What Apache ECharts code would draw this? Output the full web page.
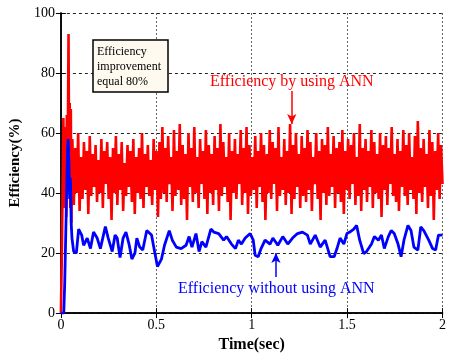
<!DOCTYPE html>
<html>
<head>
<meta charset="utf-8">
<script src="https://cdn.jsdelivr.net/npm/echarts@6/dist/echarts.min.js"></script>
<style>
  html, body { margin: 0; padding: 0; background: #fff; }
  #main { width: 449px; height: 358px; }
</style>
</head>
<body>
<div id="main"></div>
<script>
// axis ticks
var xTicks = [0, 0.5, 1, 1.5, 2];
var yTicks = [0, 20, 40, 60, 80, 100];

// red: efficiency by using ANN (start transient, then steady part sampled evenly from 0.06 s to 2 s)
var redStartT = [0, 0.005, 0.01, 0.013, 0.016, 0.019, 0.022, 0.025, 0.028, 0.031, 0.035, 0.04, 0.043, 0.046, 0.049, 0.052, 0.055];
var redStartV = [0, 20, 45, 65, 40, 62, 35, 58, 32, 66, 45, 93, 50, 70, 35, 68, 30];
var redSteadyStart = 0.06;
var redSteadyV = [
  58,36,55,40,60,34,52,38,57,41,54,33,59,39,53,42,
  56,37,51,40,58,35,54,43,57,38,52,31,55,40,59,36,
  53,41,57,34,50,39,56,42,54,37,58,33,52,40,55,38,
  60,35,53,42,56,39,51,36,58,41,54,32,57,38,62,40,
  55,37,59,43,52,34,61,39,54,41,63,36,56,38,53,31,
  60,42,55,37,62,40,52,35,58,43,54,38,61,33,56,40,
  53,36,59,41,55,34,63,39,57,42,52,37,60,31,54,40,
  58,38,53,43,61,36,55,40,62,33,56,39,52,41,59,35,
  54,42,60,37,56,31,53,40,61,38,57,43,55,34,62,39,
  52,41,58,36,54,40,63,33,56,38,60,42,53,35,59,39,
  55,37,61,41,57,34,52,43,60,38,54,31,58,40,56,36,
  62,39,53,42,59,35,55,40,57,37,61,33,54,41,58,38,
  56,43,60,36,52,39,63,34,55,41,58,37,54,42,61,35,
  57,40,53,38,60,32,56,41,59,36,55,43,62,39,53,37,
  58,34,54,42,61,39,56,36,60,41,52,38,59,33,64,40,
  55,37,58,42,53,35,61,39,57,31,54,41,60,38,56,43
];

// blue: efficiency without using ANN
var blueT = [0, 0.015, 0.02, 0.025, 0.03, 0.035, 0.038, 0.042, 0.046, 0.05, 0.054, 0.058,
  0.067, 0.081, 0.093, 0.109, 0.119, 0.138, 0.155, 0.171, 0.190, 0.207, 0.233, 0.248, 0.269, 0.284,
  0.295, 0.310, 0.326, 0.341, 0.357, 0.372, 0.388, 0.398, 0.413, 0.429, 0.450, 0.475, 0.491, 0.506,
  0.527, 0.543, 0.568, 0.584, 0.605, 0.630, 0.656, 0.672, 0.687, 0.708, 0.724, 0.739, 0.760, 0.786,
  0.801, 0.827, 0.853, 0.868, 0.894, 0.915, 0.930, 0.946, 0.966, 0.992, 1.008, 1.018, 1.034, 1.049,
  1.070, 1.096, 1.111, 1.137, 1.163, 1.189, 1.214, 1.240, 1.266, 1.292, 1.307, 1.333, 1.359, 1.385,
  1.411, 1.432, 1.447, 1.463, 1.483, 1.499, 1.514, 1.535, 1.550, 1.566, 1.587, 1.602, 1.628, 1.643,
  1.664, 1.680, 1.695, 1.716, 1.731, 1.747, 1.767, 1.783, 1.798, 1.819, 1.835, 1.850, 1.871, 1.886,
  1.902, 1.928, 1.948, 1.964, 1.979, 2.000];
var blueV = [0, 0, 10, 25, 40, 55, 58, 50, 38, 45, 30, 25,
  20.5, 20, 28, 26, 22.6, 25, 21.5, 27, 25, 21.5, 28.8, 25, 20.5, 26,
  25, 18.5, 25, 27, 23, 18, 20, 25, 22, 21, 27.5, 26, 20.5, 15.5,
  18, 22.6, 27.5, 24.3, 22, 21.5, 22.6, 25.5, 22, 26.5, 20.5, 23.8, 22, 28,
  27, 26.5, 24.3, 25.5, 23, 21.5, 24.3, 23, 25, 26.5, 24.3, 19.3, 18.8, 21.5,
  24.3, 23, 25, 22.6, 25.5, 23, 25, 26.5, 27, 26, 23, 26, 22, 24.3,
  18.8, 18.8, 21.5, 25, 23, 26.5, 27, 28, 29.2, 24.3, 19.8, 20.5, 23, 25.5,
  24.3, 26, 21.5, 25.5, 27.5, 26.5, 23, 18.8, 24.3, 29.2, 27.5, 22, 21, 28.7,
  27.5, 24.3, 21.5, 21, 26, 26];

// 데이터 조립
var redData = [];
for (var i = 0; i < redStartT.length; i++) redData.push([redStartT[i], redStartV[i]]);
var dt = (2 - redSteadyStart) / (redSteadyV.length - 1);
for (var j = 0; j < redSteadyV.length; j++) redData.push([redSteadyStart + j * dt, redSteadyV[j]]);
var blueData = blueT.map(function (t, k) { return [t, blueV[k]]; });

var serif = 'Liberation Serif';
var myChart = echarts.init(document.getElementById('main'));

var axisLineStyle = { color: '#000', width: 1.5 };
var option = {
  animation: false,
  textStyle: { fontFamily: serif },
  grid: { left: 60, right: 2, top: 13, bottom: 43 },
  xAxis: [
    {
      type: 'value', min: xTicks[0], max: xTicks[xTicks.length - 1], interval: 0.5,
      name: 'Time(sec)', nameLocation: 'middle', nameGap: 22,
      nameTextStyle: { fontFamily: serif, fontSize: 16, fontWeight: 'bold', color: '#000' },
      axisLine: { lineStyle: axisLineStyle },
      axisTick: { inside: true, length: 5, lineStyle: { color: '#000' } },
      axisLabel: { fontFamily: serif, fontSize: 14, color: '#000', margin: 5 },
      splitLine: { show: true, lineStyle: { color: '#666', type: [2, 2], width: 1 } }
    },
    {
      type: 'value', position: 'top', min: 0, max: 2, interval: 0.5,
      axisLine: { lineStyle: axisLineStyle },
      axisTick: { inside: true, length: 5, lineStyle: { color: '#000' } },
      axisLabel: { show: false }, splitLine: { show: false }
    }
  ],
  yAxis: [
    {
      type: 'value', min: yTicks[0], max: yTicks[yTicks.length - 1], interval: 20,
      name: 'Efficiency(%)', nameLocation: 'middle', nameGap: 36,
      nameTextStyle: { fontFamily: serif, fontSize: 15, fontWeight: 'bold', color: '#000' },
      axisLine: { show: true, lineStyle: axisLineStyle },
      axisTick: { show: true, inside: true, length: 5, lineStyle: { color: '#000' } },
      axisLabel: { fontFamily: serif, fontSize: 14, color: '#000', margin: 6 },
      splitLine: { show: true, lineStyle: { color: '#222', type: [3, 3], width: 1 } }
    },
    {
      type: 'value', position: 'right', min: 0, max: 100, interval: 20,
      axisLine: { show: true, lineStyle: axisLineStyle },
      axisTick: { show: true, inside: true, length: 5, lineStyle: { color: '#000' } },
      axisLabel: { show: false }, splitLine: { show: false }
    }
  ],
  series: [
    {
      name: 'Efficiency by using ANN',
      type: 'line',
      data: redData,
      showSymbol: false,
      sampling: null,
      lineStyle: { color: '#ff0000', width: 2.6, join: 'miter' },
      itemStyle: { color: '#ff0000' },
      markLine: {
        silent: true,
        symbol: ['none', 'arrow'],
        symbolSize: [7, 10],
        label: { show: false },
        lineStyle: { color: '#ff0000', type: 'solid', width: 1.5 },
        data: [[{ coord: [1.21, 74] }, { coord: [1.21, 63] }]]
      }
    },
    {
      name: 'Efficiency without using ANN',
      type: 'line',
      data: blueData,
      showSymbol: false,
      lineStyle: { color: '#0000ff', width: 2.8 },
      itemStyle: { color: '#0000ff' },
      markLine: {
        silent: true,
        symbol: ['none', 'arrow'],
        symbolSize: [7, 10],
        label: { show: false },
        lineStyle: { color: '#0000ff', type: 'solid', width: 1.5 },
        data: [[{ coord: [1.127, 12] }, { coord: [1.127, 20] }]]
      }
    }
  ],
  graphic: [
    {
      type: 'rect', z: 100,
      shape: { x: 93, y: 40, width: 75, height: 52 },
      style: { fill: '#fffaf0', stroke: '#000', lineWidth: 1.5 }
    },
    {
      type: 'text', z: 101, left: 97, top: 44,
      style: { text: 'Efficiency\nimprovement\nequal 80%', font: '12px "Liberation Serif"', fill: '#000', lineHeight: 15 }
    },
    {
      type: 'text', z: 101, left: 210, top: 74,
      style: { text: 'Efficiency by using ANN', font: '16px "Liberation Serif"', fill: '#ff0000' }
    },
    {
      type: 'text', z: 101, left: 178, top: 281,
      style: { text: 'Efficiency without using ANN', font: '16px "Liberation Serif"', fill: '#0000ff' }
    }
  ]
};

myChart.setOption(option);
</script>
</body>
</html>
